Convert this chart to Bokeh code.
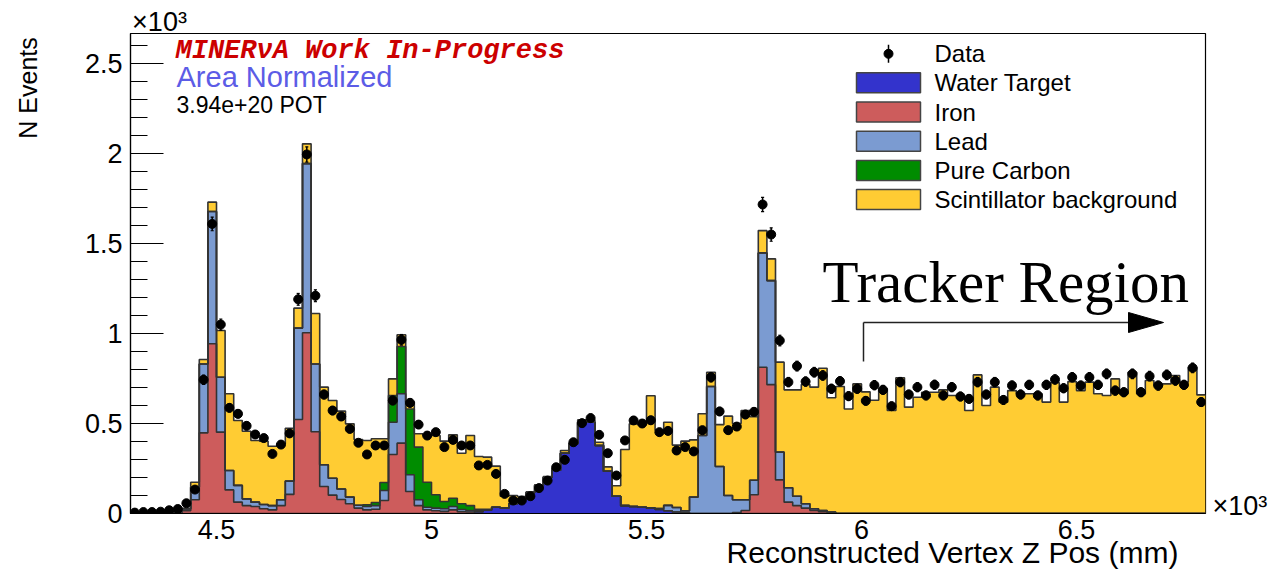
import numpy as np
from bokeh.plotting import figure
from bokeh.models import (Range1d, FixedTicker, SingleIntervalTicker, NumeralTickFormatter,
                          Label, LinearAxis)
from bokeh.core.properties import value
from bokeh.embed import file_html
from bokeh.resources import INLINE

# ---------------- data (values in units of 10^3) ----------------
X_MIN, X_MAX, BIN_W = 4.30, 6.80, 0.02      # x10^3 mm
Y_MAX = 2.667
x_ticks = [4.5, 5.0, 5.5, 6.0, 6.5]

water = [
    0, 0, 0, 0, 0, 0, 0, 0, 0, 0,
    0, 0, 0, 0, 0, 0, 0, 0, 0, 0,
    0, 0, 0, 0, 0, 0, 0, 0, 0, 0,
    0, 0, 0, 0, 0, 0, 0, 0, 0, 0,
    0.008, 0.020, 0.035, 0.030, 0.054, 0.080, 0.115, 0.155, 0.200, 0.240,
    0.335, 0.387, 0.507, 0.507, 0.378, 0.235, 0.096, 0.044, 0.039, 0.035,
    0.030, 0.022, 0.015, 0.008, 0.005, 0, 0, 0, 0, 0,
    0, 0, 0, 0, 0, 0, 0, 0, 0, 0,
    0, 0, 0, 0, 0, 0, 0, 0, 0, 0,
    0, 0, 0, 0, 0, 0, 0, 0, 0, 0,
    0, 0, 0, 0, 0, 0, 0, 0, 0, 0,
    0, 0, 0, 0, 0, 0, 0, 0, 0, 0,
    0, 0, 0, 0, 0,
]
iron = [
    0, 0, 0, 0, 0.002, 0.005, 0.015, 0.076, 0.448, 0.943,
    0.452, 0.131, 0.063, 0.044, 0.039, 0.026, 0.020, 0.044, 0.106, 0.522,
    1.004, 0.454, 0.150, 0.102, 0.078, 0.054, 0.030, 0.020, 0.024, 0.072,
    0.328, 0.391, 0.122, 0.044, 0.020, 0.015, 0.012, 0.020, 0.010, 0.008,
    0.004, 0, 0, 0, 0, 0, 0, 0, 0, 0,
    0, 0, 0, 0, 0, 0, 0, 0, 0, 0,
    0, 0, 0, 0, 0, 0, 0, 0, 0, 0,
    0.005, 0.017, 0.104, 0.813, 0.716, 0.187, 0.063, 0.044, 0.030, 0.017,
    0.010, 0.005, 0, 0, 0, 0, 0, 0, 0, 0,
    0, 0, 0, 0, 0, 0, 0, 0, 0, 0,
    0, 0, 0, 0, 0, 0, 0, 0, 0, 0,
    0, 0, 0, 0, 0, 0, 0, 0, 0, 0,
    0, 0, 0, 0, 0,
]
lead = [
    0, 0, 0, 0, 0.002, 0.003, 0.010, 0.070, 0.383, 0.735,
    0.305, 0.108, 0.093, 0.037, 0.024, 0.024, 0.024, 0.032, 0.074, 0.508,
    0.940, 0.377, 0.121, 0.094, 0.058, 0.037, 0.016, 0.019, 0.020, 0.056,
    0.179, 0.274, 0.093, 0.032, 0.015, 0.015, 0.014, 0.019, 0.012, 0.008,
    0.004, 0, 0, 0, 0, 0, 0, 0, 0, 0,
    0, 0, 0, 0, 0, 0, 0, 0, 0, 0,
    0, 0.005, 0.030, 0.025, 0.010, 0.091, 0.433, 0.706, 0.261, 0.100,
    0.071, 0.059, 0.081, 0.635, 0.578, 0.154, 0.080, 0.052, 0.024, 0.009,
    0.007, 0.003, 0, 0, 0, 0, 0, 0, 0, 0,
    0, 0, 0, 0, 0, 0, 0, 0, 0, 0,
    0, 0, 0, 0, 0, 0, 0, 0, 0, 0,
    0, 0, 0, 0, 0, 0, 0, 0, 0, 0,
    0, 0, 0, 0, 0,
]
carbon = [
    0, 0, 0, 0, 0, 0, 0, 0, 0, 0,
    0, 0, 0, 0, 0, 0, 0, 0, 0, 0,
    0, 0, 0, 0, 0, 0, 0, 0.010, 0.017, 0.044,
    0.149, 0.263, 0.366, 0.293, 0.139, 0.074, 0.041, 0.046, 0.032, 0.028,
    0.008, 0.004, 0, 0, 0, 0, 0, 0, 0, 0,
    0, 0, 0, 0, 0, 0, 0, 0, 0, 0,
    0, 0, 0, 0, 0, 0, 0, 0, 0, 0,
    0, 0, 0, 0, 0, 0, 0, 0, 0, 0,
    0, 0, 0, 0, 0, 0, 0, 0, 0, 0,
    0, 0, 0, 0, 0, 0, 0, 0, 0, 0,
    0, 0, 0, 0, 0, 0, 0, 0, 0, 0,
    0, 0, 0, 0, 0, 0, 0, 0, 0, 0,
    0, 0, 0, 0, 0,
]
scint = [
    0, 0, 0, 0, 0.001, 0.002, 0.004, 0.028, 0.025, 0.052,
    0.260, 0.426, 0.361, 0.376, 0.343, 0.352, 0.330, 0.311, 0.294, 0.111,
    0.110, 0.280, 0.431, 0.432, 0.433, 0.407, 0.365, 0.357, 0.354, 0.243,
    0.092, 0.065, 0.038, 0.074, 0.259, 0.329, 0.335, 0.352, 0.281, 0.389,
    0.293, 0.289, 0.228, 0.066, 0.046, 0.014, 0.005, 0.005, 0.005, 0.010,
    0.015, 0.005, 0.013, 0.013, 0.018, 0.024, 0.058, 0.312, 0.459, 0.459,
    0.624, 0.436, 0.462, 0.347, 0.387, 0.318, 0.121, 0.079, 0.233, 0.441,
    0.424, 0.496, 0.353, 0.124, 0.121, 0.500, 0.544, 0.591, 0.663, 0.676,
    0.790, 0.635, 0.706, 0.581, 0.720, 0.676, 0.629, 0.693, 0.572, 0.754,
    0.591, 0.646, 0.674, 0.674, 0.687, 0.656, 0.656, 0.572, 0.770, 0.600,
    0.702, 0.619, 0.683, 0.665, 0.665, 0.665, 0.619, 0.727, 0.619, 0.733,
    0.683, 0.730, 0.665, 0.656, 0.748, 0.665, 0.785, 0.665, 0.739, 0.711,
    0.720, 0.767, 0.730, 0.813, 0.659,
]
data = [
    0.005, 0.008, 0.008, 0.010, 0.018, 0.025, 0.057, 0.133, 0.743, 1.609,
    1.050, 0.587, 0.554, 0.487, 0.439, 0.419, 0.331, 0.383, 0.445, 1.190,
    1.995, 1.210, 0.661, 0.572, 0.539, 0.470, 0.393, 0.328, 0.378, 0.378,
    0.628, 0.965, 0.615, 0.494, 0.433, 0.452, 0.369, 0.409, 0.378, 0.378,
    0.267, 0.270, 0.220, 0.109, 0.072, 0.072, 0.096, 0.141, 0.183, 0.257,
    0.298, 0.396, 0.502, 0.530, 0.437, 0.335, 0.211, 0.406, 0.517, 0.500,
    0.518, 0.452, 0.459, 0.350, 0.369, 0.345, 0.463, 0.757, 0.567, 0.463,
    0.483, 0.550, 0.565, 1.717, 1.550, 0.961, 0.730, 0.819, 0.733, 0.785,
    0.767, 0.693, 0.735, 0.652, 0.693, 0.626, 0.713, 0.687, 0.596, 0.730,
    0.661, 0.702, 0.656, 0.715, 0.656, 0.702, 0.650, 0.637, 0.730, 0.661,
    0.730, 0.631, 0.711, 0.661, 0.715, 0.656, 0.715, 0.745, 0.696, 0.757,
    0.711, 0.757, 0.715, 0.776, 0.683, 0.674, 0.776, 0.674, 0.763, 0.711,
    0.770, 0.739, 0.715, 0.809, 0.619,
]

layer_names = ["Water Target", "Iron", "Lead", "Pure Carbon", "Scintillator background"]
layer_colors = ["#3333cc", "#cd5c5c", "#7b9bd1", "#008c00", "#ffcc33"]
layer_values = [water, iron, lead, carbon, scint]

# ---------------- geometry (canvas pixels) ----------------
W, H = 1280, 577
FR_L, FR_R, FR_T, FR_B = 130, 1205, 33, 513
def dx(px):
    return X_MIN + (px - FR_L) * (X_MAX - X_MIN) / (FR_R - FR_L)
def dy(py):
    return (FR_B - py) * Y_MAX / (FR_B - FR_T)

FONT = "Liberation Sans"

p = figure(width=W, height=H, title=None,
           x_range=Range1d(X_MIN, X_MAX), y_range=Range1d(0, Y_MAX),
           output_backend="svg", toolbar_location=None,
           min_border_left=FR_L, min_border_top=FR_T,
           min_border_right=W - FR_R, min_border_bottom=H - FR_B)
p.background_fill_color = "white"
p.border_fill_color = "white"
p.outline_line_color = "black"
p.outline_line_width = 1.2
p.xgrid.visible = False
p.ygrid.visible = False

# ---------------- stacked histograms ----------------
n = len(data)
edges = X_MIN + BIN_W * np.arange(n + 1)
centers = edges[:-1] + BIN_W / 2
bottom = np.zeros(n)
tops = []
for vals, col in zip(layer_values, layer_colors):
    top = bottom + np.asarray(vals, dtype=float)
    y1 = np.append(bottom, bottom[-1])
    y2 = np.append(top, top[-1])
    p.varea_step(x=edges, y1=y1, y2=y2, step_mode="after", fill_color=col)
    tops.append(y2)
    bottom = top
for t in tops:
    p.step(x=edges, y=t, mode="after", line_color="#333333", line_width=1.6)

# ---------------- data points ----------------
d = np.asarray(data)
err = 0.03 * np.sqrt(d)
p.segment(x0=centers, y0=d - err, x1=centers, y1=d + err, line_color="black", line_width=1.5)
cap = BIN_W * 0.18
p.segment(x0=centers - cap, y0=d + err, x1=centers + cap, y1=d + err, line_color="black", line_width=1.2)
p.segment(x0=centers - cap, y0=d - err, x1=centers + cap, y1=d - err, line_color="black", line_width=1.2)
p.scatter(x=centers, y=d, size=9, marker="circle", fill_color="black", line_color="black")

# ---------------- axes ----------------
xa = p.xaxis[0]
ya = p.yaxis[0]
xa.ticker = FixedTicker(ticks=x_ticks, minor_ticks=[])
xa.formatter = NumeralTickFormatter(format="0.[0]")
xa.major_tick_in = 0
xa.major_tick_out = 0
xa.minor_tick_in = 0
xa.minor_tick_out = 0
xa.major_label_standoff = 6
ya.ticker = SingleIntervalTicker(interval=0.5, num_minor_ticks=5)
ya.formatter = NumeralTickFormatter(format="0.[0]")
ya.major_tick_in = 33
ya.major_tick_out = 0
ya.minor_tick_in = 17
ya.minor_tick_out = 0
ya.major_label_standoff = 8
for ax in (xa, ya):
    ax.axis_line_color = "black"
    ax.axis_line_width = 1.2
    ax.major_tick_line_color = "black"
    ax.minor_tick_line_color = "black"
    ax.major_label_text_font = FONT
    ax.major_label_text_font_size = "27px"
    ax.major_label_text_color = "black"

# texts outside the frame are carried by label-only axes (one tick each)
def text_axis(side, pos, text, size, standoff, orientation="horizontal"):
    ax = LinearAxis(ticker=FixedTicker(ticks=[pos], minor_ticks=[]),
                    major_label_overrides={pos: text},
                    axis_line_color=None, major_tick_line_color=None,
                    minor_tick_line_color=None, major_tick_in=0, major_tick_out=0,
                    minor_tick_in=0, minor_tick_out=0,
                    major_label_standoff=standoff, major_label_orientation=orientation,
                    major_label_text_font=FONT, major_label_text_font_size=size,
                    major_label_text_color="black")
    p.add_layout(ax, side)

text_axis("left", dy(87.5), "N Events", "25px", 40, "vertical")
text_axis("below", dx(952), "Reconstructed Vertex Z Pos (mm)", "30px", -6)
text_axis("above", dx(159), "\u00d710\u00b3", "27px", -3)
text_axis("right", dy(505), "\u00d710\u00b3", "27px", 7)

def label(px, py, text, size, color="black", font=FONT, style="normal", align="left"):
    p.add_layout(Label(x=dx(px), y=dy(py), text=text, text_font=font,
                       text_font_size=size, text_color=color, text_font_style=style,
                       text_align=align, text_baseline="middle"))

# annotations inside the frame (y = visual centre of the capitals)
label(175, 50.5, "MINER\u03bdA Work In-Progress", "27px", color="#cc0000",
      font="Liberation Mono", style="bold italic")
label(176, 76.5, "Area Normalized", "29px", color="#5c5ce6")
label(176, 104, "3.94e+20 POT", "23px")
label(822, 281, "Tracker Region", "59px", font="Liberation Serif")

# arrow
p.segment(x0=[dx(863), dx(863)], y0=[dy(361), dy(322)], x1=[dx(863), dx(1132)], y1=[dy(322), dy(322)],
          line_color="#222222", line_width=1.5)
p.patch(x=[dx(1128), dx(1163), dx(1128)], y=[dy(312), dy(322), dy(332)],
        fill_color="black", line_color="black")

# ---------------- legend (drawn manually, ROOT style) ----------------
row0 = 53.3
p.segment(x0=[dx(888)], y0=[dy(row0 + 9)], x1=[dx(888)], y1=[dy(row0 - 9)], line_color="black", line_width=1.5)
p.scatter(x=[dx(888)], y=[dy(row0)], size=9, marker="circle", fill_color="black", line_color="black")
p.text(x=[dx(934)], y=[dy(row0)], text=["Data"], text_font=value(FONT),
       text_font_size="24px", text_baseline="middle", text_align="left", text_color="black")
for k, (name, col) in enumerate(zip(layer_names, layer_colors)):
    cy = 82.3 + 29.2 * k
    p.quad(left=[dx(856)], right=[dx(920)], top=[dy(cy - 10)], bottom=[dy(cy + 10)],
           fill_color=col, line_color="#444444", line_width=1.5)
    p.text(x=[dx(934)], y=[dy(cy)], text=[name], text_font=value(FONT),
           text_font_size="24px", text_baseline="middle", text_align="left", text_color="black")

open("out.html", "w").write(file_html(p, INLINE))
